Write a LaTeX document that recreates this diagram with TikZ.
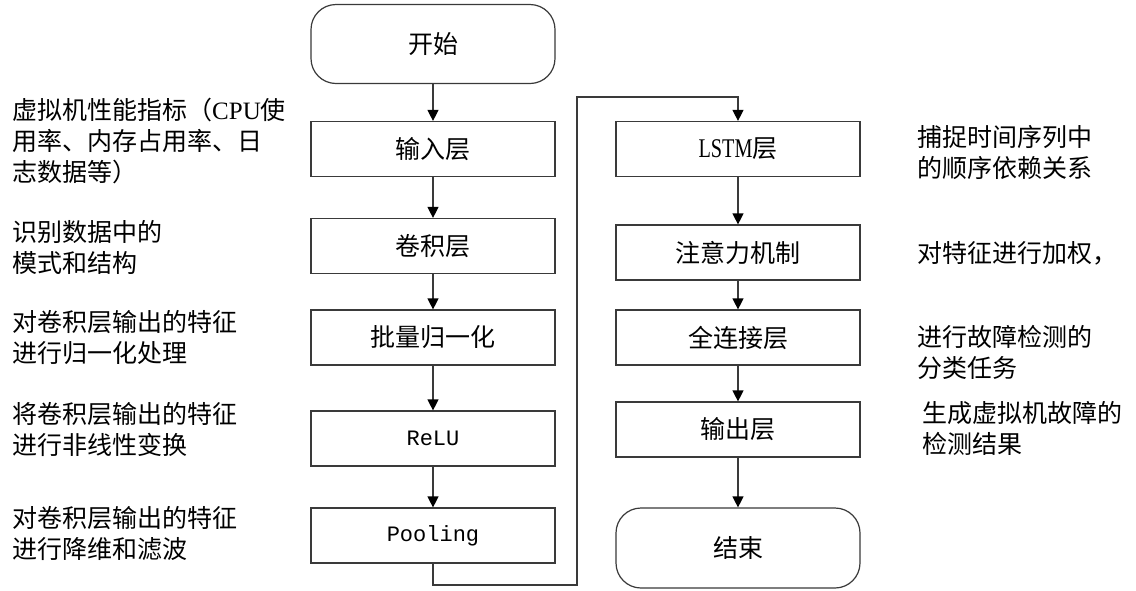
\documentclass[tikz,border=0pt]{standalone}
\usepackage{fontspec}
\newfontfamily\cjk{Noto Sans CJK SC}
\newfontfamily\serifLat{Liberation Serif}
\newfontfamily\stretchLat[FakeStretch=0.75]{Liberation Serif}
\newfontfamily\monoLat{Liberation Mono}
\usetikzlibrary{arrows.meta}
\definecolor{linegray}{HTML}{3A3A3A}
\begin{document}
\begin{tikzpicture}[x=1pt,y=-1pt,
  every node/.style={font=\cjk\fontsize{25}{31}\selectfont, text=black},
  box/.style={draw=linegray, line width=1.2pt, minimum width=244pt, minimum height=55pt, inner sep=0pt},
  term/.style={box, rounded corners=25pt, minimum height=79pt},
  note/.style={anchor=west, align=left, inner sep=0pt},
  flow/.style={draw=linegray, line width=1.2pt, -{Triangle[length=11pt,width=11pt,color=black]}},
  monotxt/.style={font=\monoLat\fontsize{22}{25}\selectfont}
]
\fill[white] (0,0) rectangle (1136,590);
\useasboundingbox (0,0) rectangle (1136,590);

% left column
\node[term] (start) at (433,44) {开始};
\node[box] (input) at (433,149) {输入层};
\node[box] (conv) at (433,246) {卷积层};
\node[box] (bn) at (433,337.5) {批量归一化};
\node[box, monotxt] (relu) at (433,438.5) {ReLU};
\node[box, monotxt] (pool) at (433,535.5) {Pooling};

% right column
\node[box] (lstm) at (738,149) {{\stretchLat\fontsize{27}{27}\selectfont LSTM}层};
\node[box] (att) at (738,252.5) {注意力机制};
\node[box] (fc) at (738,337.5) {全连接层};
\node[box] (out) at (738,429.5) {输出层};
\node[term, minimum height=80pt] (end) at (738,548) {结束};

% connectors
\draw[flow] (start) -- (input);
\draw[flow] (input) -- (conv);
\draw[flow] (conv) -- (bn);
\draw[flow] (bn) -- (relu);
\draw[flow] (relu) -- (pool);
\coordinate (c1) at (433,585);
\coordinate (c2) at (577,585);
\coordinate (c3) at (577,97);
\coordinate (c4) at (738,97);
\draw[flow] (pool.south) -- (c1) -- (c2) -- (c3) -- (c4) -- (lstm.north);
\draw[flow] (lstm) -- (att);
\draw[flow] (att) -- (fc);
\draw[flow] (fc) -- (out);
\draw[flow] (out) -- (end);

% notes left
\node[note] (n1) at (12,141) {虚拟机性能指标（{\serifLat CPU}使\\用率、内存占用率、日\\志数据等）};
\node[note] (n2) at (12,247) {识别数据中的\\模式和结构};
\node[note] (n3) at (12,337.5) {对卷积层输出的特征\\进行归一化处理};
\node[note] (n4) at (12,429) {将卷积层输出的特征\\进行非线性变换};
\node[note] (n5) at (12,534) {对卷积层输出的特征\\进行降维和滤波};

% notes right
\node[note] (n6) at (917,152.5) {捕捉时间序列中\\的顺序依赖关系};
\node[note] (n7) at (917,253) {对特征进行加权，};
\node[note] (n8) at (917,352.5) {进行故障检测的\\分类任务};
\node[note] (n9) at (922,428.5) {生成虚拟机故障的\\检测结果};
\end{tikzpicture}
\end{document}
